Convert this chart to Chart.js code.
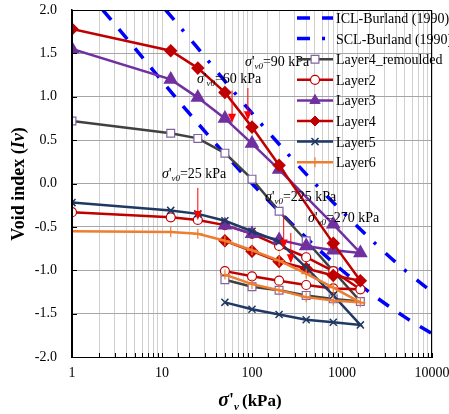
<!DOCTYPE html>
<html>
<head>
<meta charset="utf-8">
<script src="https://cdn.jsdelivr.net/npm/chart.js@4.4.0/dist/chart.umd.min.js"></script>
<style>
  html, body { margin: 0; padding: 0; background: #fff; }
  #wrap { width: 449px; height: 414px; }
</style>
</head>
<body>
<div id="wrap"><canvas id="chart" width="449" height="414"></canvas></div>
<script>
// ==============================
// DATA
// ==============================
const stressFull = [1, 12.5, 25, 50, 100, 200, 400, 800, 1600, 800, 400, 200, 100, 50];
const stressNo400 = [1, 12.5, 25, 50, 100, 200, 800, 1600, 800, 400, 200, 100, 50];

const layer4RemouldedIv = [0.72, 0.58, 0.52, 0.35, 0.05, -0.32, -0.66, -1.01, -1.36, -1.33, -1.29, -1.23, -1.19, -1.11];
const layer2Iv = [-0.33, -0.39, -0.42, -0.48, -0.58, -0.72, -0.85, -1.01, -1.22, -1.21, -1.17, -1.12, -1.07, -1.01];
const layer3Iv = [1.55, 1.20, 0.99, 0.75, 0.46, 0.16, -0.47, -0.80, -0.77, -0.72, -0.65, -0.58, -0.48];
const layer4Iv = [1.78, 1.53, 1.33, 1.05, 0.65, 0.21, -0.69, -1.12, -1.06, -0.98, -0.90, -0.78, -0.66];
const layer5Iv = [-0.22, -0.31, -0.35, -0.43, -0.55, -0.67, -0.97, -1.29, -1.63, -1.60, -1.57, -1.51, -1.45, -1.37];
const layer6Iv = [-0.55, -0.56, -0.58, -0.66, -0.77, -0.89, -1.04, -1.20, -1.37, -1.35, -1.31, -1.23, -1.16, -1.05];

// Burland (1990) reference lines
const iclStress = [2.2, 5, 10, 20, 50, 100, 200, 500, 1000, 2000, 5000, 10000];
const iclIv = [2.0, 1.56, 1.18, 0.81, 0.34, 0.0, -0.32, -0.72, -1.0, -1.25, -1.54, -1.73];
const sclStress = [11, 25, 50, 100, 250, 500, 1000, 2500, 5000, 10000];
const sclIv = [2.0, 1.56, 1.18, 0.81, 0.34, 0.0, -0.32, -0.72, -1.0, -1.25];

// in-situ stress markers
const sv0Values = [90, 60, 25, 225, 270];
const sv0Labels = ["=90 kPa", "=60 kPa", "=25 kPa", "=225 kPa", "=270 kPa"];
const sv0ArrowTop = [1.10, 1.07, -0.05, -0.38, -0.57];
const sv0ArrowTip = [0.73, 0.70, -0.42, -0.75, -0.92];

const yTicks = [-2, -1.5, -1, -0.5, 0, 0.5, 1, 1.5, 2];

const pts = (xs, ys) => xs.map((x, i) => ({ x, y: ys[i] }));
const SERIF = "'Liberation Serif', 'Times New Roman', serif";

// ==============================
// DATASETS
// ==============================
const datasets = [
  { label: "ICL-Burland (1990)", data: pts(iclStress, iclIv), borderColor: "#0000FF", borderWidth: 3.5,
    borderDash: [13, 12], pointRadius: 0, cubicInterpolationMode: "monotone", order: 8 },
  { label: "SCL-Burland (1990)", data: pts(sclStress, sclIv), borderColor: "#0000FF", borderWidth: 3.5,
    borderDash: [13, 12, 3, 13], pointRadius: 0, cubicInterpolationMode: "monotone", order: 7 },
  { label: "Layer4_remoulded", data: pts(stressFull, layer4RemouldedIv), borderColor: "#404040", borderWidth: 2.5,
    pointStyle: "rect", pointRadius: 5.5, pointBackgroundColor: "#fff", pointBorderColor: "#8064A2", pointBorderWidth: 1.2, order: 6 },
  { label: "Layer2", data: pts(stressFull, layer2Iv), borderColor: "#C00000", borderWidth: 2.5,
    pointStyle: "circle", pointRadius: 4.5, pointBackgroundColor: "#fff", pointBorderColor: "#C00000", pointBorderWidth: 1.2, order: 5 },
  { label: "Layer3", data: pts(stressNo400, layer3Iv), borderColor: "#7030A0", borderWidth: 2.5,
    pointStyle: "triangle", pointRadius: 6, pointBackgroundColor: "#7030A0", pointBorderColor: "#7030A0", order: 4 },
  { label: "Layer4", data: pts(stressNo400, layer4Iv), borderColor: "#C00000", borderWidth: 2.5,
    pointStyle: "rectRot", pointRadius: 5, pointBackgroundColor: "#C00000", pointBorderColor: "#C00000", order: 3 },
  { label: "Layer5", data: pts(stressFull, layer5Iv), borderColor: "#1F3864", borderWidth: 2.5,
    pointStyle: "crossRot", pointRadius: 5, pointBorderColor: "#1F3864", pointBorderWidth: 1.5, order: 2 },
  { label: "Layer6", data: pts(stressFull, layer6Iv), borderColor: "#ED7D31", borderWidth: 2.5,
    pointStyle: "cross", pointRadius: 5, pointBorderColor: "#ED7D31", pointBorderWidth: 1.2, order: 1 }
];

// ==============================
// DRAW HELPERS
// ==============================
function drawRich(ctx, parts, x, y) {
  let cx = x;
  parts.forEach(p => {
    ctx.font = p.font;
    ctx.fillText(p.text, cx, y + (p.dy || 0));
    cx += ctx.measureText(p.text).width + (p.gap || 0);
  });
  return cx - x;
}
function richWidth(ctx, parts) {
  return parts.reduce((w, p) => { ctx.font = p.font; return w + ctx.measureText(p.text).width + (p.gap || 0); }, 0);
}
function drawMarker(ctx, ds, x, y) {
  Chart.helpers.drawPoint(ctx, {
    pointStyle: ds.pointStyle, radius: ds.pointRadius, rotation: 0, borderWidth: ds.pointBorderWidth || 1
  }, x, y);
}

// annotation text positions (pixels)
const sv0TextPos = [[245, 66], [197, 83], [162, 178], [265, 201], [308, 222]];

const extras = {
  id: "extras",
  afterDatasetsDraw(chart) {
    const { ctx, chartArea: a, scales: { x, y } } = chart;
    ctx.save();

    // frame + inside ticks
    ctx.strokeStyle = "#000";
    ctx.lineWidth = 1;
    ctx.strokeRect(a.left + 0.5, a.top + 0.5, a.right - a.left - 1, a.bottom - a.top);
    ctx.beginPath();
    x.ticks.forEach(t => {
      const px = Math.round(x.getPixelForValue(t.value)) + 0.5;
      ctx.moveTo(px, a.bottom); ctx.lineTo(px, a.bottom - 4);
    });
    yTicks.forEach(v => {
      const py = Math.round(y.getPixelForValue(v)) + 0.5;
      ctx.moveTo(a.left, py); ctx.lineTo(a.left + 5, py);
    });
    ctx.stroke();

    // sigma'v0 annotations
    ctx.fillStyle = "#000";
    ctx.textBaseline = "alphabetic";
    sv0Values.forEach((s, i) => {
      const [tx, ty] = sv0TextPos[i];
      drawRich(ctx, [
        { text: "σ", font: `italic 14px ${SERIF}` },
        { text: "'", font: `14px ${SERIF}` },
        { text: "v0", font: `italic 9px ${SERIF}`, dy: 3 },
        { text: sv0Labels[i], font: `14px ${SERIF}` }
      ], tx, ty);

      const px = x.getPixelForValue(s);
      const top = y.getPixelForValue(sv0ArrowTop[i]);
      const tip = y.getPixelForValue(sv0ArrowTip[i]);
      ctx.strokeStyle = "#FF0000";
      ctx.fillStyle = "#FF0000";
      ctx.lineWidth = 1;
      ctx.beginPath();
      ctx.moveTo(px, top); ctx.lineTo(px, tip - 8);
      ctx.stroke();
      ctx.beginPath();
      ctx.moveTo(px - 4, tip - 9); ctx.lineTo(px + 4, tip - 9); ctx.lineTo(px, tip);
      ctx.closePath(); ctx.fill();
      ctx.fillStyle = "#000";
    });

    // legend
    const lx0 = 297, lx1 = 333, rowY = 18, rowH = 20.6;
    datasets.forEach((ds, i) => {
      const ry = rowY + i * rowH;
      ctx.save();
      ctx.strokeStyle = ds.borderColor;
      ctx.lineWidth = ds.borderWidth;
      ctx.setLineDash(ds.borderDash || []);
      ctx.beginPath(); ctx.moveTo(lx0, ry); ctx.lineTo(lx1, ry); ctx.stroke();
      ctx.restore();
      if (ds.pointRadius) {
        ctx.save();
        ctx.fillStyle = ds.pointBackgroundColor || ds.pointBorderColor;
        ctx.strokeStyle = ds.pointBorderColor;
        ctx.lineWidth = ds.pointBorderWidth || 1;
        drawMarker(ctx, ds, (lx0 + lx1) / 2, ry);
        ctx.restore();
      }
      ctx.fillStyle = "#000";
      ctx.font = `14px ${SERIF}`;
      ctx.fillText(ds.label, 336, ry + 5);
    });

    // axis titles
    ctx.fillStyle = "#000";
    const xt = [
      { text: "σ", font: `italic bold 20px ${SERIF}` },
      { text: "'", font: `bold 18px ${SERIF}` },
      { text: "v", font: `italic bold 11px ${SERIF}`, dy: 4, gap: 3 },
      { text: "(kPa)", font: `bold 17px ${SERIF}` }
    ];
    drawRich(ctx, xt, 250 - richWidth(ctx, xt) / 2, 406);

    const yt = [
      { text: "Void index (", font: `bold 18px ${SERIF}` },
      { text: "Iv", font: `italic bold 18px ${SERIF}` },
      { text: ")", font: `bold 18px ${SERIF}` }
    ];
    ctx.translate(24, 184);
    ctx.rotate(-Math.PI / 2);
    drawRich(ctx, yt, -richWidth(ctx, yt) / 2, 0);
    ctx.restore();
  }
};

// ==============================
// CHART
// ==============================
new Chart(document.getElementById("chart").getContext("2d"), {
  type: "line",
  data: { datasets },
  options: {
    responsive: false,
    animation: false,
    devicePixelRatio: 1,
    layout: { padding: { left: 0, right: 17, top: 10, bottom: 0 } },
    plugins: { legend: { display: false }, tooltip: { enabled: false } },
    elements: { line: { tension: 0, fill: false } },
    scales: {
      x: {
        type: "logarithmic", min: 1, max: 10000,
        afterFit: s => { s.height = 57; s.paddingLeft = 0; s.paddingRight = 0; },
        grid: { color: "#d0d0d0", lineWidth: 1, drawTicks: false },
        border: { color: "#000", width: 1 },
        ticks: {
          autoSkip: false, maxRotation: 0, padding: 8, color: "#000",
          font: { family: SERIF, size: 14 },
          callback: v => {
            const l = Math.log10(v);
            return Math.abs(l - Math.round(l)) < 1e-9 ? String(Math.round(v)) : "";
          }
        }
      },
      y: {
        min: -2, max: 2,
        afterFit: s => { s.width = 72; s.paddingTop = 0; s.paddingBottom = 0; },
        grid: { color: "#a6a6a6", lineWidth: 1, drawTicks: false },
        border: { color: "#000", width: 1.5 },
        ticks: {
          stepSize: 0.5, padding: 15, color: "#000",
          font: { family: SERIF, size: 14 },
          callback: v => v.toFixed(1)
        }
      }
    }
  },
  plugins: [extras]
});
</script>
</body>
</html>
